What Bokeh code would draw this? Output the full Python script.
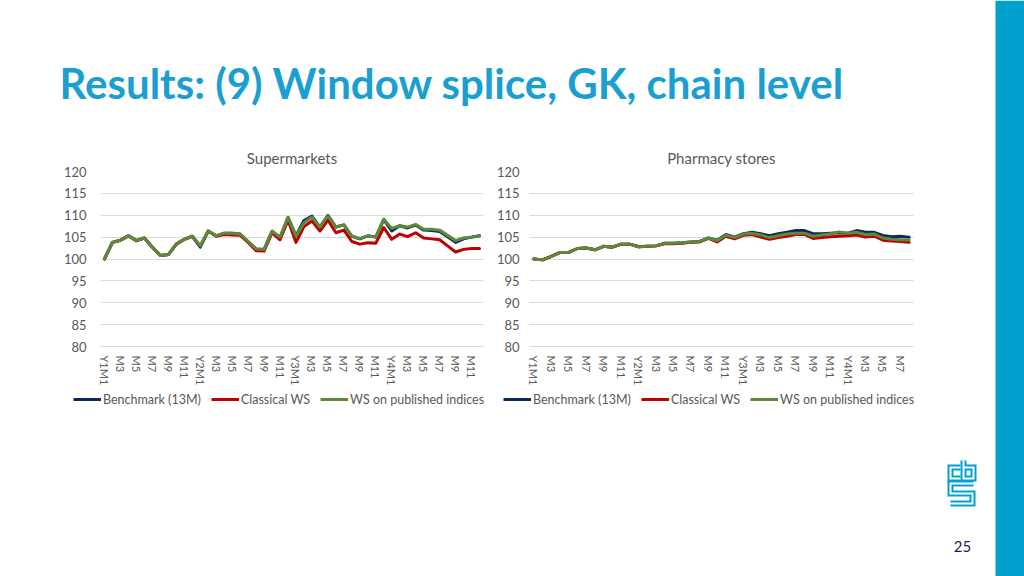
import math
from bokeh.plotting import figure
from bokeh.models import FixedTicker, Legend, LegendItem, Range1d, Title
from bokeh.layouts import column, row
from bokeh.embed import file_html
from bokeh.resources import INLINE
from bokeh.core.properties import value

# ---------------- data ----------------
PAGE_TITLE = "Results: (9) Window splice, GK, chain level"
PAGE_NUMBER = "25"
SERIES = ["Benchmark (13M)", "Classical WS", "WS on published indices"]
COLORS = ["#0b2a5e", "#c00000", "#5a8a3a"]

# month labels Y1M1 .. Y4M12
MONTHS = [("Y%dM1" % (y + 1)) if m == 0 else "M%d" % (m + 1) for y in range(4) for m in range(12)]

sm_title = "Supermarkets"
sm_bench = [100.0, 103.8, 104.3, 105.3, 104.2, 104.8, 102.7, 100.8, 101.0, 103.4,
            104.5, 105.2, 102.7, 106.4, 105.3, 105.9, 105.9, 105.7, 104.0, 102.3,
            102.2, 106.3, 104.9, 109.5, 105.3, 108.8, 109.8, 107.3, 110.0, 107.3,
            107.8, 105.2, 104.6, 105.3, 105.0, 109.0, 106.4, 107.6, 107.1, 107.8,
            106.6, 106.5, 106.3, 105.1, 103.8, 104.6, 105.0, 105.3]
sm_classical = [100.0, 103.8, 104.3, 105.3, 104.2, 104.8, 102.7, 100.8, 101.0, 103.4,
                104.5, 105.2, 103.0, 106.4, 105.2, 105.6, 105.5, 105.4, 103.8, 101.9,
                101.8, 106.0, 104.4, 108.9, 103.8, 107.4, 108.7, 106.4, 108.9, 106.0,
                106.6, 104.0, 103.4, 103.7, 103.6, 107.2, 104.5, 105.7, 105.1, 106.0,
                104.8, 104.6, 104.4, 103.0, 101.6, 102.2, 102.4, 102.4]
sm_published = [100.0, 103.8, 104.3, 105.3, 104.2, 104.8, 102.7, 100.8, 101.0, 103.4,
                104.5, 105.2, 103.0, 106.4, 105.3, 105.9, 105.9, 105.7, 104.0, 102.3,
                102.2, 106.4, 105.0, 109.5, 105.2, 108.3, 109.6, 107.3, 109.9, 107.3,
                107.8, 105.2, 104.7, 105.3, 105.0, 109.1, 107.0, 107.6, 107.3, 107.9,
                106.8, 106.8, 106.6, 105.4, 104.2, 104.8, 105.0, 105.3]

ph_title = "Pharmacy stores"
ph_bench = [100.0, 99.8, 100.6, 101.5, 101.5, 102.4, 102.5, 102.1, 102.9, 102.7,
            103.4, 103.4, 102.8, 102.9, 103.0, 103.6, 103.6, 103.7, 103.9, 104.0,
            104.8, 104.3, 105.6, 105.0, 105.8, 106.1, 105.8, 105.3, 105.8, 106.1,
            106.5, 106.5, 105.8, 105.8, 105.9, 106.0, 105.9, 106.5, 106.1, 106.1,
            105.4, 105.1, 105.2, 105.0]
ph_classical = [100.0, 99.8, 100.6, 101.5, 101.5, 102.4, 102.5, 102.1, 102.9, 102.7,
                103.4, 103.4, 102.8, 102.9, 103.0, 103.5, 103.5, 103.6, 103.8, 103.9,
                104.7, 103.9, 105.2, 104.6, 105.4, 105.6, 105.0, 104.5, 104.9, 105.2,
                105.6, 105.6, 104.7, 104.9, 105.1, 105.2, 105.3, 105.5, 105.0, 105.2,
                104.3, 104.1, 104.0, 103.8]
ph_published = [100.0, 99.8, 100.6, 101.5, 101.5, 102.4, 102.5, 102.1, 102.9, 102.7,
                103.4, 103.4, 102.8, 102.9, 103.0, 103.6, 103.6, 103.7, 103.9, 104.0,
                104.8, 104.2, 105.5, 104.9, 105.7, 105.9, 105.5, 104.9, 105.3, 105.7,
                105.9, 105.9, 105.2, 105.5, 105.8, 106.2, 105.9, 106.1, 105.6, 105.7,
                104.8, 104.5, 104.4, 104.4]

Y_TICKS = [80, 85, 90, 95, 100, 105, 110, 115, 120]

FONT = "Lato"
GRAY = "#595959"
GRID = "#d9d9d9"
BLUE = "#00a1cd"


def chart(title, series, width, left, title_offset, label_standoff):
    n = len(series[0])
    p = figure(width=width, height=250, output_backend="svg", toolbar_location=None,
               x_range=Range1d(-0.5, n - 0.5), y_range=Range1d(80, 120),
               min_border_left=left, min_border_right=7, min_border_top=33,
               min_border_bottom=40, title=None)
    p.outline_line_color = None
    p.background_fill_color = "white"
    p.border_fill_color = "white"
    t = Title(text=title, align="center", offset=title_offset,
              text_font=FONT, text_font_size="15px", text_font_style="normal",
              text_color=GRAY, standoff=9)
    p.add_layout(t, "above")
    xs = list(range(n))
    for vals, c in zip(series, COLORS):
        p.line(xs, vals, line_color=c, line_width=3, line_join="round", line_cap="round")
    p.xgrid.visible = False
    p.ygrid.grid_line_color = GRID
    p.ygrid.ticker = FixedTicker(ticks=Y_TICKS)
    p.yaxis.ticker = FixedTicker(ticks=Y_TICKS)
    p.yaxis.axis_line_color = None
    p.yaxis.major_tick_line_color = None
    p.yaxis.minor_tick_line_color = None
    p.yaxis.major_tick_out = 0
    p.yaxis.minor_tick_out = 0
    p.yaxis.major_label_text_font = FONT
    p.yaxis.major_label_text_font_size = "13px"
    p.yaxis.major_label_text_color = GRAY
    p.yaxis.major_label_standoff = label_standoff
    ticks = list(range(0, n, 2))
    p.xaxis.ticker = FixedTicker(ticks=ticks)
    p.xaxis.major_label_overrides = {i: MONTHS[i] for i in ticks}
    p.xaxis.major_label_orientation = "vertical"
    p.xaxis.axis_line_color = GRID
    p.xaxis.major_tick_line_color = None
    p.xaxis.minor_tick_line_color = None
    p.xaxis.major_tick_out = 0
    p.xaxis.minor_tick_out = 0
    p.xaxis.major_label_text_font = FONT
    p.xaxis.major_label_text_font_size = "11px"
    p.xaxis.major_label_text_color = GRAY
    p.xaxis.major_label_standoff = 9
    return p


p1 = chart(sm_title, [sm_bench, sm_classical, sm_published], 490, 100, -10, 14)
p2 = chart(ph_title, [ph_bench, ph_classical, ph_published], 430, 39, -8, 10)

# ---------- legends strip below the two charts ----------
leg = figure(width=920, height=30, output_backend="svg", toolbar_location=None,
             x_range=Range1d(0, 920), y_range=Range1d(0, 30),
             min_border=0, outline_line_color=None)
leg.axis.visible = False
leg.grid.visible = False
for lx0 in (73, 503):
    # proxy renderers (outside the visible range) that carry the legend styling
    rs = [leg.line(x=[-50, -40], y=[-50, -50], line_color=c, line_width=3) for c in COLORS]
    legend = Legend(items=[LegendItem(label=s, renderers=[r]) for s, r in zip(SERIES, rs)],
                    orientation="horizontal", location=(lx0, 10),
                    label_text_font=FONT, label_text_font_size="12.5px",
                    label_text_color=GRAY, glyph_width=28, glyph_height=18,
                    label_standoff=2, spacing=10, padding=0, margin=0,
                    border_line_color=None, background_fill_alpha=0,
                    label_height=18)
    leg.add_layout(legend, "center")

# ---------- top band with page title ----------
top = figure(width=920, height=138, output_backend="svg", toolbar_location=None,
             x_range=Range1d(0, 920), y_range=Range1d(138, 0),
             min_border=0, outline_line_color=None)
top.axis.visible = False
top.grid.visible = False
top.text(x=[59], y=[82], text=[PAGE_TITLE], text_font=value(FONT), text_font_style="bold",
         text_font_size="42px", text_color="#1a9fd0", text_baseline="alphabetic")

# ---------- right decoration column (full height) ----------
deco = figure(width=104, height=576, output_backend="svg", toolbar_location=None,
              x_range=Range1d(0, 104), y_range=Range1d(576, 0),
              min_border=0, outline_line_color=None)
deco.axis.visible = False
deco.grid.visible = False
deco.quad(left=[75], right=[104], top=[0], bottom=[576], fill_color=BLUE, line_color=None)
ox, oy = 920, 0
logo_paths = [
    [(960, 467), (950, 467), (950, 478), (960, 478)],
    [(963, 460), (963, 478), (973, 478), (973, 467), (963, 467)],
    [(973, 483), (950, 483), (950, 493), (972, 493), (972, 503), (950, 503)],
]
lx = [[px - ox for px, _ in path] for path in logo_paths]
ly = [[py - oy for _, py in path] for path in logo_paths]
deco.multi_line(lx, ly, line_color=BLUE, line_width=6, line_join="miter")
deco.multi_line(lx, ly, line_color="white", line_width=2, line_join="miter")
deco.text(x=[42], y=[546], text=[PAGE_NUMBER], text_font=value(FONT), text_font_size="15px",
          text_color="#1f1a5e", text_align="center", text_baseline="middle")

layout = row(column(top, row(p1, p2, spacing=0), leg, spacing=0), deco, spacing=0)

open("out.html", "w").write(file_html(layout, INLINE))
